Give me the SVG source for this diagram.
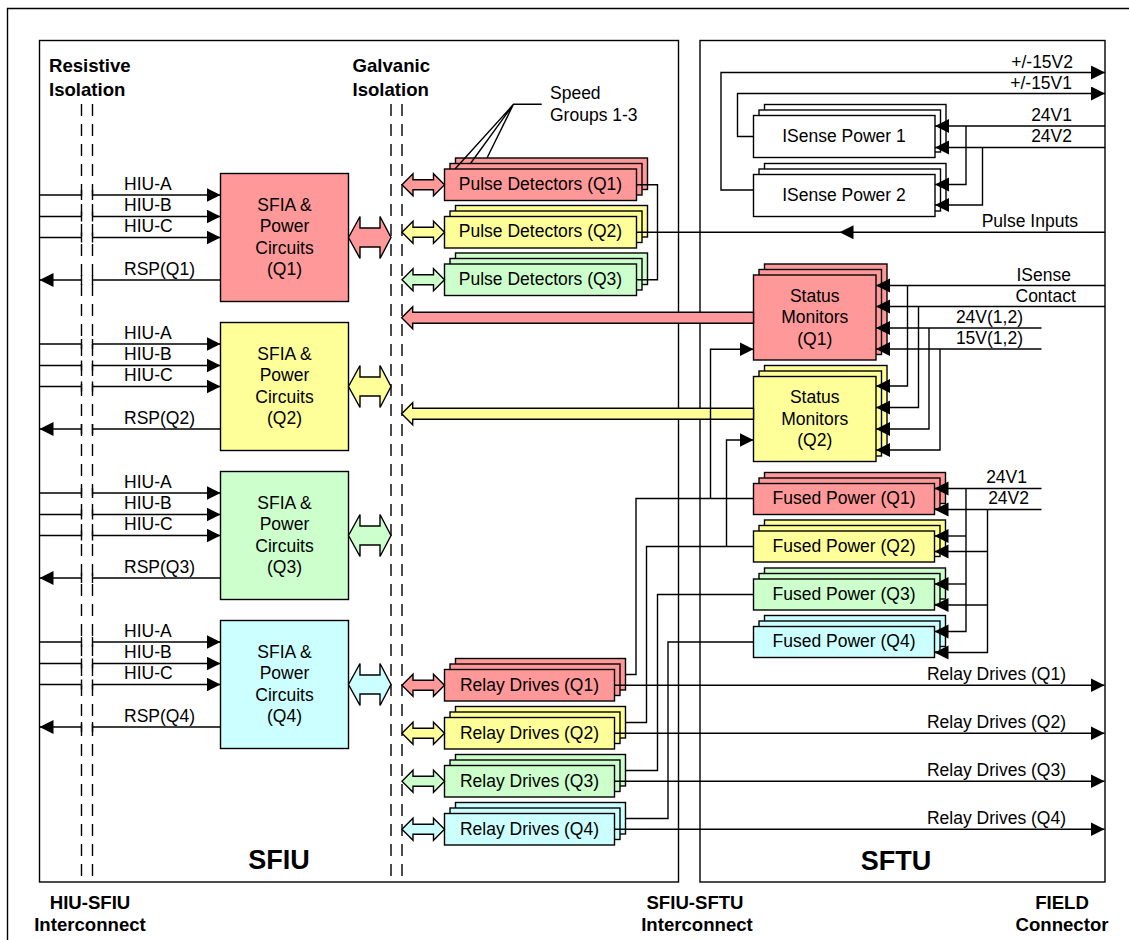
<svg xmlns="http://www.w3.org/2000/svg" width="1129" height="940" viewBox="0 0 1129 940">
<style>
.t{font-family:"Liberation Sans",Arial,sans-serif;font-size:17.5px;fill:#000}
.c{text-anchor:middle}
.e{text-anchor:end}
.b{font-weight:bold;font-size:18.6px}
.big{font-weight:bold;font-size:27px}
.ln{fill:none;stroke:#000;stroke-width:1.4}
.ar{fill:none;stroke:#000;stroke-width:1.4;marker-end:url(#ah)}
.dash{fill:none;stroke:#000;stroke-width:1.4;stroke-dasharray:12,8}
.bx{stroke:#000;stroke-width:1.4}
.r{fill:#FF9999}.y{fill:#FFFF99}.g{fill:#CCFFCC}.cy{fill:#CCFFFF}.w{fill:#FFFFFF}
</style>
<defs>
<marker id="ah" markerUnits="userSpaceOnUse" markerWidth="15" markerHeight="15" refX="14" refY="7" orient="auto">
<path d="M0,0 L14,7 L0,14 Z" fill="#000"/>
</marker>
</defs>
<rect width="1129" height="940" fill="#fff"/>
<g id="frame">
<path class="ln" d="M7.5,940 V8.5 H1129"/>
<rect id="sfiu-box" x="39.5" y="40.5" width="639" height="841.5" fill="none" stroke="#000" stroke-width="1.4"/>
<rect id="sftu-box" x="700" y="40.5" width="405" height="841.5" fill="none" stroke="#000" stroke-width="1.4"/>
<path class="dash" d="M81.5,104 V882 M92.5,104 V882 M391,104 V882 M402,104 V882"/>
</g>
<g id="labels">
<text class="t b" x="49" y="72">Resistive</text>
<text class="t b" x="49" y="96">Isolation</text>
<text class="t b" x="352.5" y="72">Galvanic</text>
<text class="t b" x="352.5" y="96">Isolation</text>
<text class="t" x="550" y="99">Speed</text>
<text class="t" x="550" y="121">Groups 1-3</text>
<text class="t big c" x="279" y="868.5">SFIU</text>
<text class="t big c" x="896" y="869.5">SFTU</text>
<text class="t b c" x="90" y="908.5">HIU-SFIU</text>
<text class="t b c" x="90" y="930.5">Interconnect</text>
<text class="t b c" x="695" y="908.5">SFIU-SFTU</text>
<text class="t b c" x="697" y="930.5">Interconnect</text>
<text class="t b c" x="1062" y="908.5">FIELD</text>
<text class="t b c" x="1062" y="930.5">Connector</text>
</g>
<g id="sfia-q1">
<rect class="bx r" x="220.5" y="173.5" width="128" height="128"/>
<text class="t c" x="284.5" y="210.5">SFIA &amp;</text><text class="t c" x="284.5" y="232">Power</text><text class="t c" x="284.5" y="253.5">Circuits</text><text class="t c" x="284.5" y="275">(Q1)</text>
</g>
<g id="sfia-q2">
<rect class="bx y" x="220.5" y="322.5" width="128" height="128"/>
<text class="t c" x="284.5" y="359.5">SFIA &amp;</text><text class="t c" x="284.5" y="381">Power</text><text class="t c" x="284.5" y="402.5">Circuits</text><text class="t c" x="284.5" y="424">(Q2)</text>
</g>
<g id="sfia-q3">
<rect class="bx g" x="220.5" y="471.5" width="128" height="128"/>
<text class="t c" x="284.5" y="508.5">SFIA &amp;</text><text class="t c" x="284.5" y="530">Power</text><text class="t c" x="284.5" y="551.5">Circuits</text><text class="t c" x="284.5" y="573">(Q3)</text>
</g>
<g id="sfia-q4">
<rect class="bx cy" x="220.5" y="620.5" width="128" height="128"/>
<text class="t c" x="284.5" y="657.5">SFIA &amp;</text><text class="t c" x="284.5" y="679">Power</text><text class="t c" x="284.5" y="700.5">Circuits</text><text class="t c" x="284.5" y="722">(Q4)</text>
</g>
<g id="pulse-q1">
<rect class="bx r" x="455.5" y="158" width="192" height="31.5"/><rect class="bx r" x="450" y="163.5" width="192" height="31.5"/><rect class="bx r" x="444.5" y="169" width="192" height="31.5"/>
<text class="t c" x="540.5" y="189.7">Pulse Detectors (Q1)</text>
</g>
<g id="pulse-q2">
<rect class="bx y" x="455.5" y="205.5" width="192" height="31.5"/><rect class="bx y" x="450" y="211" width="192" height="31.5"/><rect class="bx y" x="444.5" y="216.5" width="192" height="31.5"/>
<text class="t c" x="540.5" y="237.2">Pulse Detectors (Q2)</text>
</g>
<g id="pulse-q3">
<rect class="bx g" x="455.5" y="253" width="192" height="31.5"/><rect class="bx g" x="450" y="258.5" width="192" height="31.5"/><rect class="bx g" x="444.5" y="264" width="192" height="31.5"/>
<text class="t c" x="540.5" y="284.7">Pulse Detectors (Q3)</text>
</g>
<g id="relay-q1">
<rect class="bx r" x="455.5" y="658.5" width="170" height="31.5"/><rect class="bx r" x="450" y="664" width="170" height="31.5"/><rect class="bx r" x="444.5" y="669.5" width="170" height="31.5"/>
<text class="t c" x="529.5" y="690.5">Relay Drives (Q1)</text>
</g>
<g id="relay-q2">
<rect class="bx y" x="455.5" y="706.5" width="170" height="31.5"/><rect class="bx y" x="450" y="712" width="170" height="31.5"/><rect class="bx y" x="444.5" y="717.5" width="170" height="31.5"/>
<text class="t c" x="529.5" y="738.5">Relay Drives (Q2)</text>
</g>
<g id="relay-q3">
<rect class="bx g" x="455.5" y="754.5" width="170" height="31.5"/><rect class="bx g" x="450" y="760" width="170" height="31.5"/><rect class="bx g" x="444.5" y="765.5" width="170" height="31.5"/>
<text class="t c" x="529.5" y="786.5">Relay Drives (Q3)</text>
</g>
<g id="relay-q4">
<rect class="bx cy" x="455.5" y="802.5" width="170" height="31.5"/><rect class="bx cy" x="450" y="808" width="170" height="31.5"/><rect class="bx cy" x="444.5" y="813.5" width="170" height="31.5"/>
<text class="t c" x="529.5" y="834.5">Relay Drives (Q4)</text>
</g>
<g id="isense-1">
<rect class="bx w" x="764.5" y="104.5" width="181.5" height="42"/><rect class="bx w" x="759" y="110" width="181.5" height="42"/><rect class="bx w" x="753.5" y="115.5" width="181.5" height="42"/>
<text class="t c" x="844" y="141.5">ISense Power 1</text>
</g>
<g id="isense-2">
<rect class="bx w" x="764.5" y="163.5" width="181.5" height="42"/><rect class="bx w" x="759" y="169" width="181.5" height="42"/><rect class="bx w" x="753.5" y="174.5" width="181.5" height="42"/>
<text class="t c" x="844" y="200.5">ISense Power 2</text>
</g>
<g id="status-q1">
<rect class="bx r" x="764.5" y="264" width="122.5" height="85"/><rect class="bx r" x="759" y="269.5" width="122.5" height="85"/><rect class="bx r" x="753.5" y="275" width="122.5" height="85"/>
<text class="t c" x="814.75" y="301.7">Status</text><text class="t c" x="814.75" y="323.3">Monitors</text><text class="t c" x="814.75" y="344.5">(Q1)</text>
</g>
<g id="status-q2">
<rect class="bx y" x="764.5" y="365.5" width="122.5" height="85"/><rect class="bx y" x="759" y="371" width="122.5" height="85"/><rect class="bx y" x="753.5" y="376.5" width="122.5" height="85"/>
<text class="t c" x="814.75" y="403.3">Status</text><text class="t c" x="814.75" y="424.8">Monitors</text><text class="t c" x="814.75" y="446">(Q2)</text>
</g>
<g id="fused-q1">
<rect class="bx r" x="764.5" y="472.5" width="181" height="31"/><rect class="bx r" x="759" y="478" width="181" height="31"/><rect class="bx r" x="753.5" y="483.5" width="181" height="31"/>
<text class="t c" x="844" y="504">Fused Power (Q1)</text>
</g>
<g id="fused-q2">
<rect class="bx y" x="764.5" y="520" width="181" height="31"/><rect class="bx y" x="759" y="525.5" width="181" height="31"/><rect class="bx y" x="753.5" y="531" width="181" height="31"/>
<text class="t c" x="844" y="551.5">Fused Power (Q2)</text>
</g>
<g id="fused-q3">
<rect class="bx g" x="764.5" y="568" width="181" height="31"/><rect class="bx g" x="759" y="573.5" width="181" height="31"/><rect class="bx g" x="753.5" y="579" width="181" height="31"/>
<text class="t c" x="844" y="599.5">Fused Power (Q3)</text>
</g>
<g id="fused-q4">
<rect class="bx cy" x="764.5" y="615.5" width="181" height="31"/><rect class="bx cy" x="759" y="621" width="181" height="31"/><rect class="bx cy" x="753.5" y="626.5" width="181" height="31"/>
<text class="t c" x="844" y="647">Fused Power (Q4)</text>
</g>
<g id="connectors">
<!-- SFIU inputs Q1..Q4 -->
<path class="ln" d="M39.5,195 H81.5 M39.5,216.5 H81.5 M39.5,237.5 H81.5 M39.5,344 H81.5 M39.5,365.5 H81.5 M39.5,386.5 H81.5 M39.5,493 H81.5 M39.5,514.5 H81.5 M39.5,535.5 H81.5 M39.5,642 H81.5 M39.5,663.5 H81.5 M39.5,684.5 H81.5 M220.5,280 H92.5 M220.5,429 H92.5 M220.5,578 H92.5 M220.5,727 H92.5"/>
<path class="ln" d="M81.5,190 v10 M92.5,190 v10 M81.5,211.5 v10 M92.5,211.5 v10 M81.5,232.5 v10 M92.5,232.5 v10 M81.5,275 v10 M92.5,275 v10 M81.5,339 v10 M92.5,339 v10 M81.5,360.5 v10 M92.5,360.5 v10 M81.5,381.5 v10 M92.5,381.5 v10 M81.5,424 v10 M92.5,424 v10 M81.5,488 v10 M92.5,488 v10 M81.5,509.5 v10 M92.5,509.5 v10 M81.5,530.5 v10 M92.5,530.5 v10 M81.5,573 v10 M92.5,573 v10 M81.5,637 v10 M92.5,637 v10 M81.5,658.5 v10 M92.5,658.5 v10 M81.5,679.5 v10 M92.5,679.5 v10 M81.5,722 v10 M92.5,722 v10"/>
<path class="ar" d="M92.5,195 H220.5"/><path class="ar" d="M92.5,216.5 H220.5"/><path class="ar" d="M92.5,237.5 H220.5"/><path class="ar" d="M81.5,280 H39.5"/>
<path class="ar" d="M92.5,344 H220.5"/><path class="ar" d="M92.5,365.5 H220.5"/><path class="ar" d="M92.5,386.5 H220.5"/><path class="ar" d="M81.5,429 H39.5"/>
<path class="ar" d="M92.5,493 H220.5"/><path class="ar" d="M92.5,514.5 H220.5"/><path class="ar" d="M92.5,535.5 H220.5"/><path class="ar" d="M81.5,578 H39.5"/>
<path class="ar" d="M92.5,642 H220.5"/><path class="ar" d="M92.5,663.5 H220.5"/><path class="ar" d="M92.5,684.5 H220.5"/><path class="ar" d="M81.5,727 H39.5"/>
<g fill="#000" class="t">
<text class="t" x="124" y="189.5">HIU-A</text><text class="t" x="124" y="211">HIU-B</text><text class="t" x="124" y="232">HIU-C</text><text class="t" x="124" y="274.5">RSP(Q1)</text>
<text class="t" x="124" y="338.5">HIU-A</text><text class="t" x="124" y="360">HIU-B</text><text class="t" x="124" y="381">HIU-C</text><text class="t" x="124" y="423.5">RSP(Q2)</text>
<text class="t" x="124" y="487.5">HIU-A</text><text class="t" x="124" y="509">HIU-B</text><text class="t" x="124" y="530">HIU-C</text><text class="t" x="124" y="572.5">RSP(Q3)</text>
<text class="t" x="124" y="636.5">HIU-A</text><text class="t" x="124" y="658">HIU-B</text><text class="t" x="124" y="679">HIU-C</text><text class="t" x="124" y="721.5">RSP(Q4)</text>
</g>
<!-- big double arrows -->
<polygon class="bx r" points="348.5,237.5 360,216.5 360,228 380,228 380,216.5 391,237.5 380,258.5 380,247 360,247 360,258.5"/>
<polygon class="bx y" points="348.5,386.5 360,365.5 360,377 380,377 380,365.5 391,386.5 380,407.5 380,396 360,396 360,407.5"/>
<polygon class="bx g" points="348.5,535.5 360,514.5 360,526 380,526 380,514.5 391,535.5 380,556.5 380,545 360,545 360,556.5"/>
<polygon class="bx cy" points="348.5,684.5 360,663.5 360,675 380,675 380,663.5 391,684.5 380,705.5 380,694 360,694 360,705.5"/>
<!-- small double arrows -->
<polygon class="bx r" points="402,184.75 413,173.75 413,179.75 433.5,179.75 433.5,173.75 444.5,184.75 433.5,195.75 433.5,189.75 413,189.75 413,195.75"/>
<polygon class="bx y" points="402,232.25 413,221.25 413,227.25 433.5,227.25 433.5,221.25 444.5,232.25 433.5,243.25 433.5,237.25 413,237.25 413,243.25"/>
<polygon class="bx g" points="402,279.75 413,268.75 413,274.75 433.5,274.75 433.5,268.75 444.5,279.75 433.5,290.75 433.5,284.75 413,284.75 413,290.75"/>
<polygon class="bx r" points="402,685.25 413,674.25 413,680.25 433.5,680.25 433.5,674.25 444.5,685.25 433.5,696.25 433.5,690.25 413,690.25 413,696.25"/>
<polygon class="bx y" points="402,733.25 413,722.25 413,728.25 433.5,728.25 433.5,722.25 444.5,733.25 433.5,744.25 433.5,738.25 413,738.25 413,744.25"/>
<polygon class="bx g" points="402,781.25 413,770.25 413,776.25 433.5,776.25 433.5,770.25 444.5,781.25 433.5,792.25 433.5,786.25 413,786.25 413,792.25"/>
<polygon class="bx cy" points="402,829.25 413,818.25 413,824.25 433.5,824.25 433.5,818.25 444.5,829.25 433.5,840.25 433.5,834.25 413,834.25 413,840.25"/>
<!-- speed groups leader -->
<path class="ln" d="M541.7,104.3 H513.5 L455,169 M513.5,104.3 L470.5,163.5 M513.5,104.3 L487,158"/>
<!-- pulse detector bus and pulse inputs -->
<path class="ln" d="M636.5,184.75 H657.5 V279.75 H636.5"/>
<path class="ln" d="M1105,232.25 H636.5"/>
<polygon points="839.5,232.25 853.5,225.25 853.5,239.25" fill="#000"/>
<!-- status wide arrows -->
<polygon class="bx r" points="401.7,317.8 412.7,306.8 412.7,312.3 753.5,312.3 753.5,323.3 412.7,323.3 412.7,328.8"/>
<polygon class="bx y" points="401.7,413.7 412.7,402.7 412.7,408.2 753.5,408.2 753.5,419.2 412.7,419.2 412.7,424.7"/>
<!-- ISense power -->
<path class="ar" d="M753.5,190 H721 V72.5 H1105"/>
<path class="ar" d="M753.5,136.5 H737.5 V93.5 H1105"/>
<path class="ar" d="M1105,126 H935"/><path class="ar" d="M966,126 V184.5 H935"/>
<path class="ar" d="M1105,147.5 H935"/><path class="ar" d="M982.5,147.5 V205 H935"/>
<!-- status monitor inputs -->
<path class="ar" d="M1105,285.5 H876"/><path class="ar" d="M907.5,285.5 V386 H876"/>
<path class="ar" d="M1105,306.5 H876"/><path class="ar" d="M918.5,306.5 V407.5 H876"/>
<path class="ar" d="M1041.5,328 H876"/><path class="ar" d="M929,328 V429 H876"/>
<path class="ar" d="M1041.5,349 H876"/><path class="ar" d="M940,349 V450 H876"/>
<!-- fused power to relay drives and status -->
<path class="ln" d="M625.5,674.5 H636 V498.5 H753.5"/>
<path class="ar" d="M710.5,498.5 V349.25 H753.5"/>
<path class="ln" d="M625.5,722.5 H646.5 V546.5 H753.5"/>
<path class="ar" d="M726.5,546.5 V440 H753.5"/>
<path class="ln" d="M625.5,770.5 H657.5 V594.5 H753.5"/>
<path class="ln" d="M625.5,818.5 H668 V642 H753.5"/>
<!-- fused power inputs -->
<path class="ar" d="M1041.5,488.5 H934.5"/><path class="ar" d="M966,488.5 V631.5 H934.5"/><path class="ar" d="M966,536 H934.5"/><path class="ar" d="M966,584 H934.5"/>
<path class="ar" d="M1041.5,509.5 H934.5"/><path class="ar" d="M987.5,509.5 V652.5 H934.5"/><path class="ar" d="M987.5,551.5 H934.5"/><path class="ar" d="M987.5,605 H934.5"/>
<!-- relay outputs -->
<path class="ar" d="M614.5,685.25 H1104.5"/>
<path class="ar" d="M614.5,733.25 H1104.5"/>
<path class="ar" d="M614.5,781.25 H1104.5"/>
<path class="ar" d="M614.5,829.25 H1104.5"/>
<!-- connector labels -->
<text class="t e" x="1073" y="67.5">+/-15V2</text>
<text class="t e" x="1072" y="88.5">+/-15V1</text>
<text class="t e" x="1072" y="121">24V1</text>
<text class="t e" x="1072" y="142">24V2</text>
<text class="t e" x="1078" y="226.5">Pulse Inputs</text>
<text class="t" x="1016.5" y="280.5">ISense</text>
<text class="t" x="1015.5" y="301.7">Contact</text>
<text class="t e" x="1023" y="322.7">24V(1,2)</text>
<text class="t e" x="1023" y="344">15V(1,2)</text>
<text class="t e" x="1027" y="482.5">24V1</text>
<text class="t e" x="1029" y="503.5">24V2</text>
<text class="t e" x="1066" y="680">Relay Drives (Q1)</text>
<text class="t e" x="1066" y="727.5">Relay Drives (Q2)</text>
<text class="t e" x="1066" y="775.5">Relay Drives (Q3)</text>
<text class="t e" x="1066" y="823.5">Relay Drives (Q4)</text>
</g>
</svg>
